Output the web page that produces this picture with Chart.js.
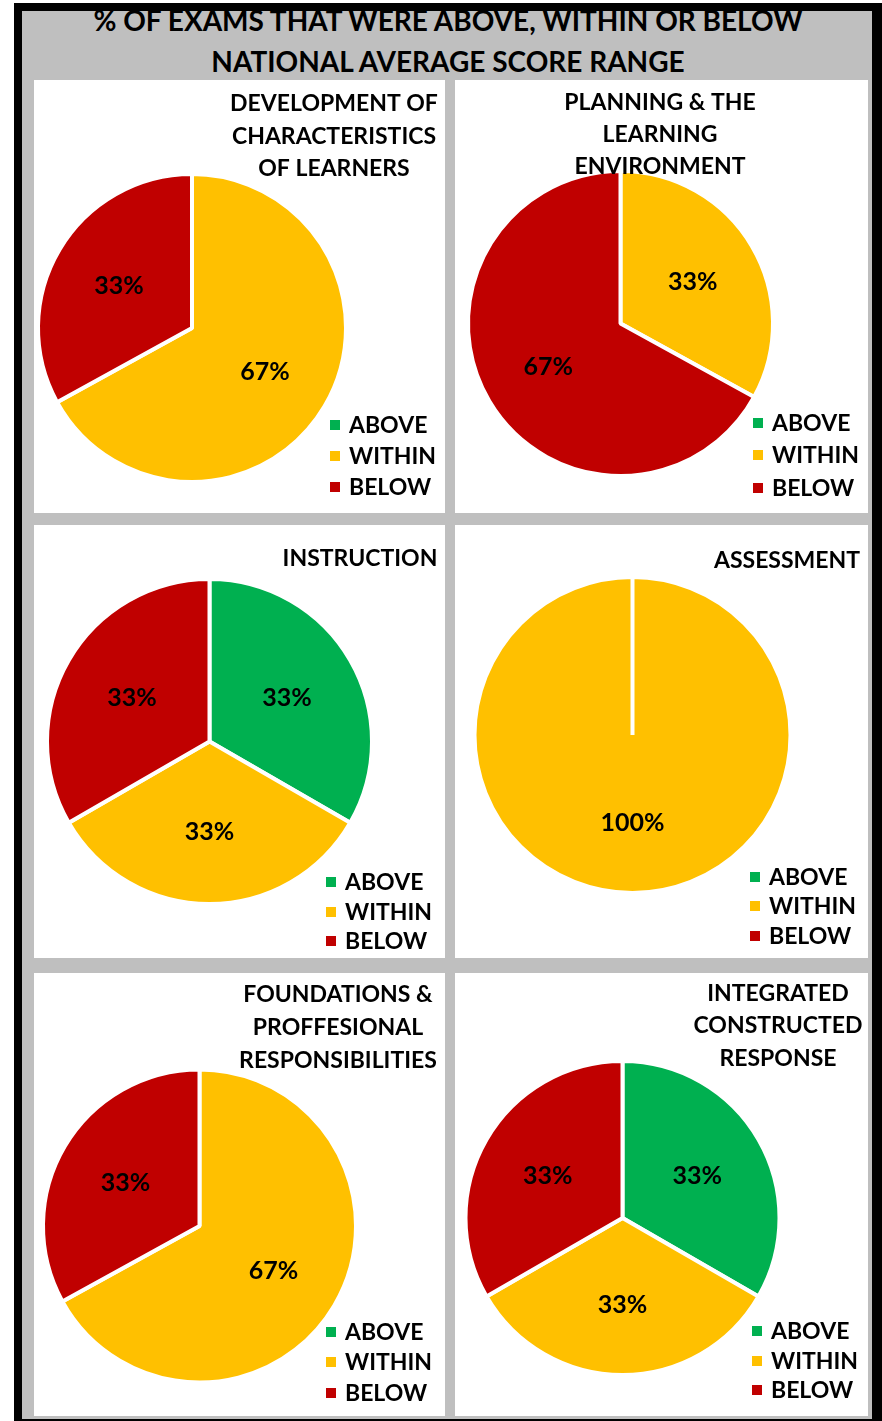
<!DOCTYPE html>
<html>
<head>
<meta charset="utf-8">
<script src="https://cdn.jsdelivr.net/npm/chart.js@4.4.1/dist/chart.umd.min.js"></script>
<style>
  html, body { margin: 0; padding: 0; background: #ffffff; }
  body { width: 882px; height: 1421px; position: relative; overflow: hidden; font-family: Lato, "Open Sans", sans-serif; }
  #frame { position: absolute; left: 14px; top: 3px; width: 868px; height: 1418px; background: #000000; }
  #gray { position: absolute; left: 22px; top: 11px; width: 850px; height: 1408px; background: #bfbfbf; overflow: hidden; }
  #mainTitle { position: absolute; left: 0; top: -11px; width: 850px; text-align: center; font-weight: 700; font-size: 28px; line-height: 41px; color: #000; white-space: nowrap; padding-left: 2px; box-sizing: border-box; }
  canvas { position: absolute; background: #ffffff; }
</style>
</head>
<body>
<div id="frame"></div>
<div id="gray"><div id="mainTitle"></div></div>
<canvas id="c1"></canvas>
<canvas id="c2"></canvas>
<canvas id="c3"></canvas>
<canvas id="c4"></canvas>
<canvas id="c5"></canvas>
<canvas id="c6"></canvas>
<script>
// ---------- DATA ----------
const mainTitleLines = ['% OF EXAMS THAT WERE ABOVE, WITHIN OR BELOW', 'NATIONAL AVERAGE SCORE RANGE'];
const categories = ['ABOVE', 'WITHIN', 'BELOW'];

const titleDevelopment = ['DEVELOPMENT OF', 'CHARACTERISTICS', 'OF LEARNERS'];
const valuesDevelopment = [0, 67, 33];

const titlePlanning = ['PLANNING & THE', 'LEARNING', 'ENVIRONMENT'];
const valuesPlanning = [0, 33, 67];

const titleInstruction = ['INSTRUCTION'];
const valuesInstruction = [33, 33, 33];

const titleAssessment = ['ASSESSMENT'];
const valuesAssessment = [0, 100, 0];

const titleFoundations = ['FOUNDATIONS &', 'PROFFESIONAL', 'RESPONSIBILITIES'];
const valuesFoundations = [0, 67, 33];

const titleIntegrated = ['INTEGRATED', 'CONSTRUCTED', 'RESPONSE'];
const valuesIntegrated = [33, 33, 33];

// ---------- STYLE ----------
const sliceColors = ['#00B050', '#FFC000', '#C00000'];
const FONT = 'Lato, "Open Sans", sans-serif';

document.getElementById('mainTitle').innerHTML = mainTitleLines.map(function (t) { return '<div>' + t.replace(/&/g, '&amp;') + '</div>'; }).join('');

// Layout of each panel (positions/sizes only)
const panels = [
  { id: 'c1', title: titleDevelopment, values: valuesDevelopment, left: 34, top: 80, w: 411, h: 433,
    pad: { left: 2, top: 92, right: 97, bottom: 29 }, titleX: 300, titleY: [23, 56, 88], legendX: 315, legendY: [345, 376, 407] },
  { id: 'c2', title: titlePlanning, values: valuesPlanning, left: 455, top: 80, w: 413, h: 433,
    pad: { left: 11, top: 89, right: 93, bottom: 35 }, titleX: 205, titleY: [22, 54, 86], legendX: 317, legendY: [343, 375, 408] },
  { id: 'c3', title: titleInstruction, values: valuesInstruction, left: 34, top: 525, w: 411, h: 433,
    pad: { left: 11, top: 52, right: 71, bottom: 52 }, titleX: 326, titleY: [33], legendX: 311, legendY: [357, 387, 416] },
  { id: 'c4', title: titleAssessment, values: valuesAssessment, left: 455, top: 525, w: 413, h: 433,
    pad: { left: 17, top: 50, right: 75, bottom: 63 }, titleX: 332, titleY: [35], legendX: 314, legendY: [352, 381, 411] },
  { id: 'c5', title: titleFoundations, values: valuesFoundations, left: 34, top: 973, w: 411, h: 443,
    pad: { left: 7, top: 94, right: 87, bottom: 31 }, titleX: 304, titleY: [21, 54, 87], legendX: 311, legendY: [359, 389, 420] },
  { id: 'c6', title: titleIntegrated, values: valuesIntegrated, left: 455, top: 973, w: 413, h: 443,
    pad: { left: 8, top: 86, right: 86, bottom: 39 }, titleX: 323, titleY: [20, 52, 85], legendX: 316, legendY: [358, 388, 417] }
];

const decorPlugin = {
  id: 'panelDecor',
  afterDraw: function (chart, args, opts) {
    const ctx = chart.ctx;
    const size = opts.fontSize;
    ctx.save();
    ctx.fillStyle = '#000000';
    ctx.textBaseline = 'alphabetic';

    // data labels
    const lsize = opts.labelFontSize;
    ctx.font = 'bold ' + lsize + 'px ' + FONT;
    const meta = chart.getDatasetMeta(0);
    const data = chart.data.datasets[0].data;
    const total = data.reduce(function (a, b) { return a + b; }, 0);
    ctx.textAlign = 'center';
    meta.data.forEach(function (arc, i) {
      if (!data[i]) return;
      const p = arc.getProps(['x', 'y', 'startAngle', 'endAngle', 'outerRadius'], true);
      const mid = (p.startAngle + p.endAngle) / 2;
      const r = p.outerRadius * opts.labelRadius;
      const lx = p.x + Math.cos(mid) * r;
      const ly = p.y + Math.sin(mid) * r;
      ctx.fillText(Math.round(data[i] / total * 100) + '%', lx, ly + lsize * 0.36);
    });

    ctx.font = 'bold ' + size + 'px ' + FONT;
    const capOff = size * 0.36;
    // panel title
    ctx.textAlign = 'center';
    opts.titleLines.forEach(function (t, i) {
      ctx.fillText(t, opts.titleX, opts.titleY[i] + capOff);
    });

    // legend
    ctx.textAlign = 'left';
    chart.data.labels.forEach(function (lab, i) {
      const y = opts.legendY[i];
      ctx.fillStyle = chart.data.datasets[0].backgroundColor[i];
      ctx.fillRect(opts.legendX - 19, y - 5, 10, 10);
      ctx.fillStyle = '#000000';
      ctx.fillText(lab, opts.legendX, y + capOff);
    });
    ctx.restore();
  }
};

panels.forEach(function (p) {
  const cv = document.getElementById(p.id);
  cv.width = p.w; cv.height = p.h;
  cv.style.left = p.left + 'px'; cv.style.top = p.top + 'px';
  cv.style.width = p.w + 'px'; cv.style.height = p.h + 'px';
  new Chart(cv.getContext('2d'), {
    type: 'pie',
    data: {
      labels: categories,
      datasets: [{
        data: p.values,
        backgroundColor: sliceColors,
        borderColor: '#ffffff',
        borderWidth: 4,
        hoverOffset: 0,
        offset: 0
      }]
    },
    options: {
      responsive: false,
      animation: false,
      devicePixelRatio: 1,
      events: [],
      layout: { padding: p.pad },
      plugins: {
        legend: { display: false },
        tooltip: { enabled: false },
        title: { display: false },
        panelDecor: {
          fontSize: 23,
          labelFontSize: 25,
          labelRadius: 0.55,
          titleLines: p.title,
          titleX: p.titleX,
          titleY: p.titleY,
          legendX: p.legendX,
          legendY: p.legendY
        }
      }
    },
    plugins: [decorPlugin]
  });
});
</script>
</body>
</html>
